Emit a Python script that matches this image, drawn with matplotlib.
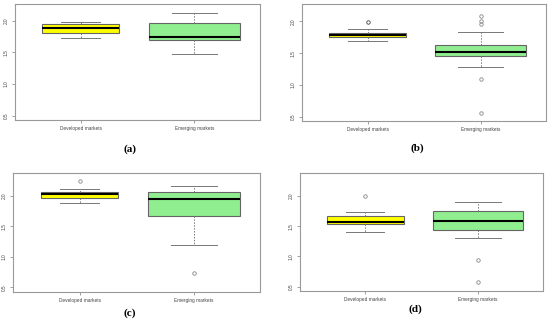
import matplotlib.pyplot as plt

# categories and box statistics (one list per panel)
groups = ["Developed markets", "Emerging markets"]
panel_labels = ["(a)", "(b)", "(c)", "(d)"]

q1 = [[1.815, 1.695], [1.746, 1.46], [1.962, 1.666], [1.541, 1.43]]
med = [[1.885, 1.747], [1.784, 1.524], [2.028, 1.946], [1.575, 1.586]]
q3 = [[1.957, 1.973], [1.81, 1.625], [2.072, 2.072], [1.674, 1.757]]
whislo = [[1.73, 1.47], [1.69, 1.276], [1.89, 1.20], [1.40, 1.305]]
whishi = [[1.984, 2.12], [1.879, 1.825], [2.12, 2.165], [1.73, 1.895]]
fliers = [
    [[], []],
    [[1.99], [2.08, 2.0, 1.96, 1.10, 0.55]],
    [[2.247], [0.73]],
    [[2.0], [0.94, 0.57]],
]
ylims = [(0.432, 2.268), (0.432, 2.268), (0.428, 2.372), (0.428, 2.372)]

# axes rectangles in figure fractions
rects = [
    [0.027, 0.633, 0.446, 0.355],
    [0.549, 0.630, 0.444, 0.357],
    [0.024, 0.108, 0.449, 0.362],
    [0.545, 0.110, 0.443, 0.360],
]
caption_xy = [(0.236, 0.545), (0.759, 0.548), (0.236, 0.043), (0.755, 0.055)]

plt.rcParams["font.family"] = ["Liberation Sans", "DejaVu Sans"]
fig = plt.figure(figsize=(5.5, 3.27), dpi=100)

for i in range(4):
    ax = fig.add_axes(rects[i])
    stats = []
    for j in range(2):
        stats.append(dict(q1=q1[i][j], med=med[i][j], q3=q3[i][j],
                          whislo=whislo[i][j], whishi=whishi[i][j],
                          fliers=fliers[i][j], label=groups[j]))
    bp = ax.bxp(stats, positions=[1, 2], widths=[0.68, 0.8], patch_artist=True,
                boxprops=dict(edgecolor="#666666", linewidth=0.8),
                medianprops=dict(color="black", linewidth=1.5),
                whiskerprops=dict(color="#777777", linewidth=0.7, linestyle=(0, (1.5, 1.5))),
                capprops=dict(color="#777777", linewidth=0.7),
                flierprops=dict(marker="o", markersize=2.5, markerfacecolor="none",
                                markeredgecolor="#888888", markeredgewidth=0.6))
    bp["boxes"][0].set_facecolor("#ffff00")
    bp["boxes"][1].set_facecolor("#90ee90")
    if i == 1:
        bp["fliers"][0].set_markeredgecolor("#444444")

    ax.set_xlim(0.42, 2.58)
    ax.set_ylim(*ylims[i])
    ax.set_yticks([0.5, 1.0, 1.5, 2.0])
    ax.set_yticklabels(["0.5", "1.0", "1.5", "2.0"], rotation=90, va="center")
    ax.tick_params(axis="both", labelsize=3.4, length=2, width=0.5,
                   color="#777777", labelcolor="#444444", pad=2.5)
    for s in ax.spines.values():
        s.set_color("#999999")
        s.set_linewidth(0.8)

    fig.text(caption_xy[i][0], caption_xy[i][1], panel_labels[i], ha="center",
             va="center", fontsize=8, fontweight="bold", family="Liberation Serif")

fig.savefig("out.png", dpi=100)
